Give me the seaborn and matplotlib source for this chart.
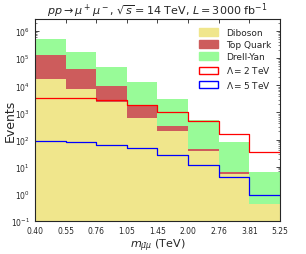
import numpy as np
import pandas as pd
import matplotlib
matplotlib.use("Agg")
import matplotlib.pyplot as plt
import seaborn as sns
from matplotlib.patches import Patch

edges_labels = ["0.40", "0.55", "0.76", "1.05", "1.45", "2.00", "2.76", "3.81", "5.25"]
# per-bin events (stacked backgrounds)
diboson   = [1.78e4, 7.6e3, 2.5e3, 650, 200, 37, 5.4, 0.42]
top_quark = [1.18e5, 3.14e4, 6.7e3, 1.2e3, 120, 10, 0.8, 0.02]
drell_yan = [3.89e5, 1.30e5, 3.78e4, 1.15e4, 2.78e3, 473, 72.8, 5.76]
lam2 = [3.55e3, 3.35e3, 2.8e3, 1.85e3, 1.05e3, 466, 158, 35.5]
lam5 = [90, 85, 66, 48, 27, 11.8, 4.1, 0.9]

sns.set_style("ticks")
plt.rcParams["font.family"] = ["DejaVu Sans"]
plt.rcParams["mathtext.fontset"] = "dejavusans"

nb = len(diboson)
idx = [i + 0.5 for i in range(nb)]
bins = [float(i) for i in range(nb + 1)]

fig = plt.figure(figsize=(3.06, 2.55), dpi=100)
ax = fig.add_axes([0.114, 0.129, 0.801, 0.793])

c1 = np.array(diboson)
c2 = c1 + np.array(top_quark)
c3 = c2 + np.array(drell_yan)

layers = [("Drell-Yan", c3, "palegreen"),
          ("Top Quark", c2, "indianred"),
          ("Diboson", c1, "khaki")]
for name, vals, col in layers:
    ax.bar(idx, vals, width=1.0, bottom=1e-3, color=col, linewidth=0)

sns.lineplot(x=bins, y=lam2 + [lam2[-1]], drawstyle="steps-post", color="red",
             linewidth=0.9, ax=ax)
sns.lineplot(x=bins, y=lam5 + [lam5[-1]], drawstyle="steps-post", color="blue",
             linewidth=0.9, ax=ax)

ax.set_yscale("log")
ax.set_ylim(0.1, 2.8e6)
ax.set_xlim(0, nb)
ax.set_xticks(bins)
ax.set_xticklabels(edges_labels)
ax.tick_params(axis="both", which="both", direction="in", top=True, right=True, labelsize=5.5)
ax.tick_params(axis="both", which="major", length=3, width=0.6)
ax.tick_params(axis="y", which="minor", length=1.5, width=0.4)
ax.yaxis.set_major_locator(matplotlib.ticker.LogLocator(base=10, numticks=12))
ax.yaxis.set_minor_locator(matplotlib.ticker.LogLocator(base=10, subs=np.arange(2, 10) * 1.0, numticks=12))
for s in ax.spines.values():
    s.set_linewidth(0.8)

ax.set_xlabel(r"$m_{\bar{\mu}\mu}$ (TeV)", fontsize=8, labelpad=1)
ax.set_ylabel("Events", fontsize=9)
ax.yaxis.set_label_coords(-0.075, 0.5)
ax.set_title(r"$pp \rightarrow \mu^+\mu^-$, $\sqrt{s} = 14$ TeV, $L = 3000$ fb$^{-1}$",
             fontsize=8, pad=3)

handles = [Patch(facecolor="khaki", edgecolor="khaki", label="Diboson"),
           Patch(facecolor="indianred", edgecolor="indianred", label="Top Quark"),
           Patch(facecolor="palegreen", edgecolor="palegreen", label="Drell-Yan"),
           Patch(facecolor="white", edgecolor="red", label=r"$\Lambda = 2$ TeV"),
           Patch(facecolor="white", edgecolor="blue", label=r"$\Lambda = 5$ TeV")]
ax.legend(handles=handles, loc="upper right", frameon=False, fontsize=6.5,
          handlelength=2.2, handleheight=0.9, labelspacing=0.35, borderaxespad=0.6)

fig.savefig("out.png", dpi=100)
